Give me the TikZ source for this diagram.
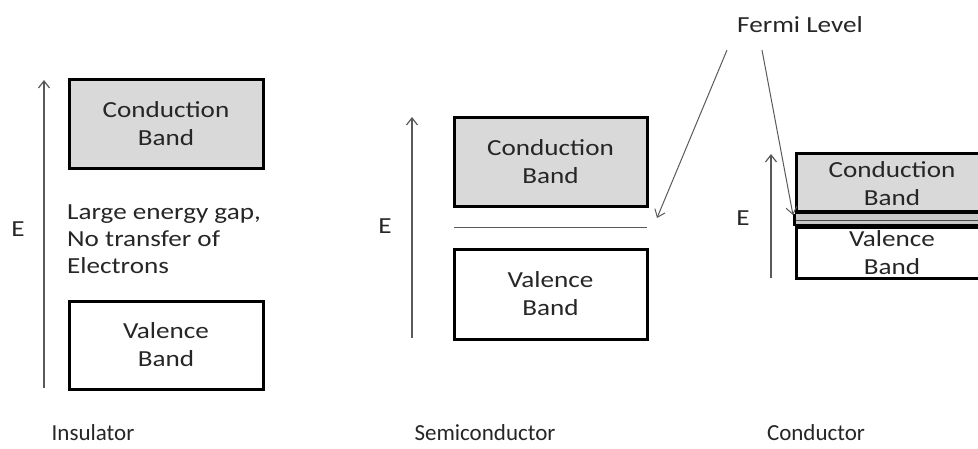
\documentclass[tikz,border=0pt]{standalone}
\usepackage{fontspec}
\setmainfont{Carlito}
\newfontfamily\widefont{Carlito}[FakeStretch=1.18]
\usetikzlibrary{arrows.meta}
\definecolor{txt}{HTML}{262626}
\definecolor{cbfill}{HTML}{D9D9D9}
\definecolor{stripefill}{HTML}{C8C8C8}
\definecolor{arr}{HTML}{595959}
\tikzset{
  band/.style={draw=black, line width=3pt, inner sep=0pt, minimum width=194pt,
    align=center, font=\widefont\fontsize{23}{28}\selectfont, text=txt},
  cband/.style={band, fill=cbfill},
  earrow/.style={draw=arr, line width=1.2pt, -{Straight Barb[length=7pt,width=11pt]}},
  elabel/.style={font=\widefont\fontsize{23}{27}\selectfont, text=txt, inner sep=0pt},
  title/.style={font=\fontsize{23}{27}\selectfont, text=txt, inner sep=0pt},
  fermiline/.style={draw=arr, line width=1pt}
}
\begin{document}
\begin{tikzpicture}[x=1pt,y=-1pt]
\useasboundingbox (0,0) rectangle (978,448);
\clip (0,0) rectangle (978,448);
% ---------- Insulator ----------
\node[cband, minimum height=89pt] (icb) at (166,123.5) {Conduction\\Band};
\node[band, minimum height=88pt] (ivb) at (166,345) {Valence\\Band};
\node[elabel, anchor=west, align=left] (igap) at (67,239)
  {Large energy gap,\\No transfer of\\Electrons};
\coordinate (ia0) at (44,388);
\coordinate (ia1) at (44,80);
\draw[earrow] (ia0) -- (ia1);
\node[elabel] (ie) at (18,229) {E};
\node[title] (ins) at (93,433) {Insulator};
% ---------- Semiconductor ----------
\node[cband, minimum width=193pt, minimum height=89pt] (scb) at (550.5,161.5) {Conduction\\Band};
\node[band, minimum width=193pt, minimum height=90pt] (svb) at (550.5,294) {Valence\\Band};
\coordinate (sf0) at (454,227);
\coordinate (sf1) at (647,227);
\draw[fermiline] (sf0) -- (sf1);
\coordinate (sa0) at (412,338);
\coordinate (sa1) at (412,117);
\draw[earrow] (sa0) -- (sa1);
\node[elabel] (se) at (385,226) {E};
\node[title] (semi) at (485,433) {Semiconductor};
% ---------- Conductor ----------
\node[draw=none, fill=stripefill, minimum width=192pt, minimum height=16pt, inner sep=0pt] (cstripe) at (892,219.5) {};
\coordinate (cs0) at (796,220);
\coordinate (cs1) at (988,220);
\draw[fermiline, draw=black!70] (cs0) -- (cs1);
\node[cband, minimum width=192pt, minimum height=59pt] (ccb) at (892,182.5) {};
\node[font=\widefont\fontsize{23}{28}\selectfont, text=txt, align=center, inner sep=0pt] (ccbt) at (892,184) {Conduction\\Band};
\node[band, minimum width=192pt, minimum height=51pt] (cvb) at (892,252.5) {Valence\\Band};
\draw[black, line width=3pt] (cstripe.north west) -- (cstripe.north east);
\draw[black, line width=3pt] (cvb.north west) -- (cvb.north east);
\draw[black, line width=3pt] (ccb.south west) -- (cvb.north west);
\coordinate (ca0) at (771,278);
\coordinate (ca1) at (771,154);
\draw[earrow] (ca0) -- (ca1);
\node[elabel] (ce) at (743,218) {E};
\node[title] (cond) at (816,433) {Conductor};
% ---------- Fermi level ----------
\node[elabel] (fermi) at (800,25) {Fermi Level};
\coordinate (fa0) at (727,50);
\coordinate (fa1) at (657,218);
\coordinate (fb0) at (762,50);
\coordinate (fb1) at (793,215);
\draw[earrow, line width=1pt] (fa0) -- (fa1);
\draw[earrow, line width=1pt] (fb0) -- (fb1);
\end{tikzpicture}
\end{document}
